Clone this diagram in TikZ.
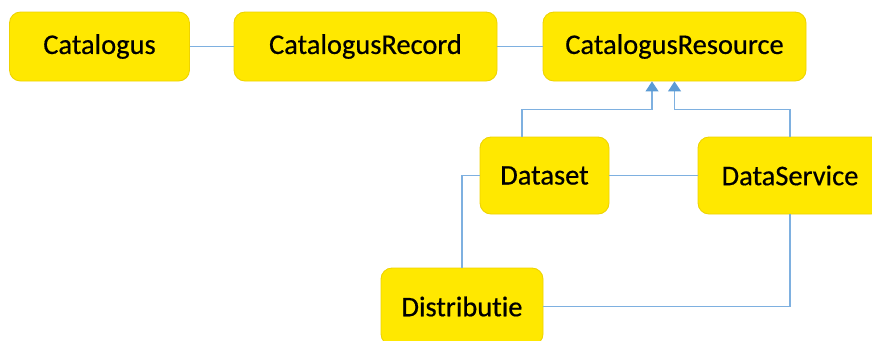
\documentclass[tikz,border=0pt]{standalone}
\usepackage{fontspec}
\setmainfont{Carlito}[Ligatures=NoCommon]
\newfontfamily\klassefont{Carlito}[Ligatures=NoCommon, FakeBold=0.5]
\usetikzlibrary{arrows.meta, calc}

\definecolor{boxyellow}{HTML}{FFE800}
\definecolor{boxedge}{HTML}{EED300}
\definecolor{linkblue}{HTML}{7EB0E0}
\definecolor{tipblue}{HTML}{5B9BD5}

\tikzset{
    klasse/.style={draw=boxedge, fill=boxyellow, rounded corners=0.22cm, line width=0.5pt,
        inner sep=0pt, font=\klassefont\fontsize{16.2}{19}\selectfont},
    link/.style={draw=linkblue, line width=0.6pt},
    erft/.style={link, -{Triangle[width=0.26cm, length=0.2cm, color=tipblue]}}
}

\begin{document}
\begin{tikzpicture}
            \useasboundingbox (0,0) rectangle (17.44,-6.8);
            % klassen
            \node[klasse, minimum width=3.6cm, minimum height=1.38cm] (cat) at (1.99,-0.93) {Catalogus};
            \node[klasse, minimum width=5.26cm, minimum height=1.38cm] (rec) at (7.31,-0.93) {CatalogusRecord};
            \node[klasse, minimum width=5.26cm, minimum height=1.38cm] (res) at (13.49,-0.93) {CatalogusResource};
            \node[klasse, minimum width=2.58cm, minimum height=1.54cm] (ds) at (10.89,-3.51) {Dataset};
            \node[klasse, minimum width=3.68cm, minimum height=1.54cm] (svc) at (15.8,-3.51) {DataService};
            \node[klasse, minimum width=3.24cm, minimum height=1.54cm] (dist) at (9.24,-6.13) {Distributie};
            % relaties
            \draw[link] (cat) -- (rec);
            \draw[link] (rec) -- (res);
            \draw[link] (ds) -- (svc);
            \draw[link] (dist.north) |- (ds.west);
            \draw[link] (dist.east) -| (svc.south);
            % overerving
            \draw[erft] ([xshift=-0.45cm]ds.north) -- ++(0,0.54) -| ([xshift=-0.45cm]res.south);
            \draw[erft] (svc.north) -- ++(0,0.54) -| (res.south);
        \end{tikzpicture}
\end{document}
